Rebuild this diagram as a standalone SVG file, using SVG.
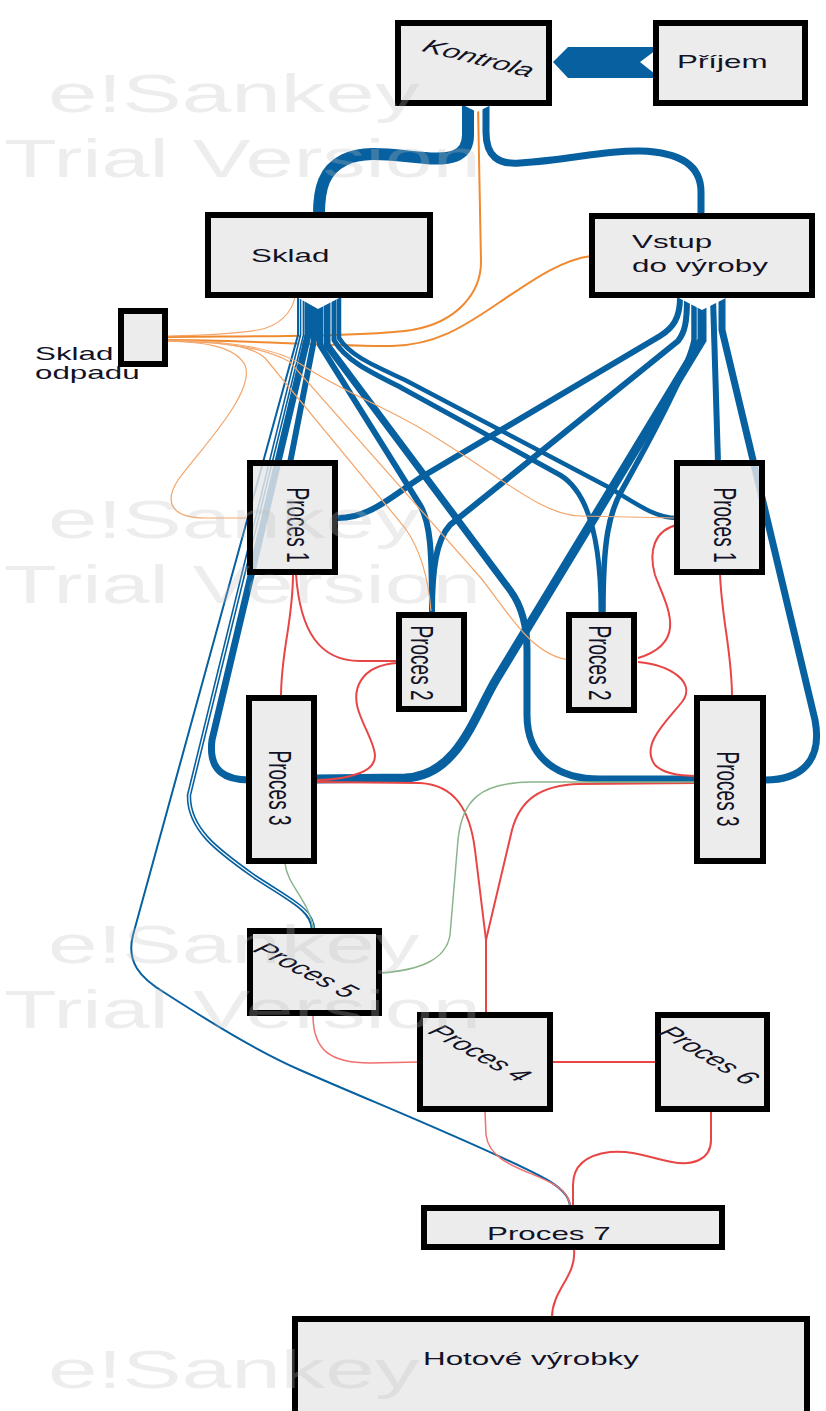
<svg xmlns="http://www.w3.org/2000/svg" width="826" height="1411" viewBox="0 0 826 1411">
<style>
.node rect{fill:#e8e8e8;fill-opacity:0.82;stroke:#000;stroke-width:6}
.lbl{font-family:"Liberation Sans",Arial,sans-serif;font-size:19px;fill:#121226}
.it{font-style:italic}
.b{fill:none;stroke:#07609f;stroke-linecap:butt}
.o{fill:none;stroke:#f08a30;stroke-width:2}
.ol{fill:none;stroke:#f4a56a;stroke-width:1.2}
.r{fill:none;stroke:#e84545;stroke-width:2}
.rl{fill:none;stroke:#f07070;stroke-width:1.5}
.g{fill:none;stroke:#8ab48a;stroke-width:1.5}
.wm{font-family:"Liberation Sans",Arial,sans-serif;font-size:54px;fill:#bdbdbd;fill-opacity:0.28}
</style>
<rect x="0" y="0" width="826" height="1411" fill="#fff"/>
<g id="connectors">
<!-- Prijem -> Kontrola -->
<polygon points="553,62 568,47 660,47 640,62 660,78 568,78" fill="#07609f"/>
<!-- Kontrola -> Sklad / Vstup -->
<path class="b" stroke-width="12" d="M468,104 L468,135 C468,158 448,160 425,158 C390,155 365,150 344,160 C324,170 319,188 319,214"/>
<path class="b" stroke-width="7" d="M486,104 L486,132 C486,156 498,165 520,163 C570,160 605,150 640,151 C680,152 701,165 701,192 L701,215"/>
<path class="o" d="M478,104 L481,262 C481,292 458,322 412,330 C360,337 250,336 168,337"/>
<!-- Vstup -> Sklad odpadu -->
<path class="o" d="M591,256 C560,260 530,282 500,302 C462,328 435,345 392,346 C330,346 240,340 168,340"/>
<!-- Sklad outflows -->
<path class="b" stroke-width="2" d="M298,298 L298,335 L133,935 C126,962 140,978 165,993 C210,1022 255,1050 300,1070 C380,1105 480,1145 540,1176 C560,1186 570,1196 570,1207"/>
<path class="b" stroke-width="4.5" d="M302,298 L302,335 L189,795 C188,830 220,852 255,877 C290,900 313,910 313,930"/>
<path stroke="#fff" stroke-width="1.3" fill="none" d="M302,300 L302,335 L189,795 C188,830 220,852 255,877 C290,900 313,910 313,928"/>
<path class="b" stroke-width="7" d="M308,298 L308,335 L212,740 C208,772 226,780 250,780"/>
<path class="b" stroke-width="6" d="M314,298 L314,340 L290,463"/>
<path class="b" stroke-width="6" d="M320,298 L320,345 L420,505 C430,522 432,548 432,612"/>
<path class="b" stroke-width="7" d="M327,298 L327,345 L510,590 C522,606 527,625 527,650 L527,715 C527,760 560,779 600,779 L697,779"/>
<path class="b" stroke-width="5" d="M334,298 L334,340 C345,360 370,372 400,387 L560,475 C585,490 601,530 601,612"/>
<path class="b" stroke-width="4.5" d="M339,298 L339,338 C350,356 375,366 405,380 L610,488 C635,503 655,518 677,518"/>
<polygon points="295,296 318,309 343,296" fill="#fff"/>
<!-- Vstup outflows -->
<path class="b" stroke-width="6" d="M680,298 C680,318 673,328 660,336 L420,478 C392,496 370,518 338,518"/>
<path class="b" stroke-width="6" d="M687,298 C687,322 685,332 678,341 L450,525 C436,540 432,570 432,612"/>
<path class="b" stroke-width="5.5" d="M694,298 L694,340 C690,362 660,422 622,490 C609,513 603,540 603,612"/>
<path class="b" stroke-width="9" d="M702,298 L702,340 L497,678 C474,716 458,776 405,778 L316,779"/>
<path class="b" stroke-width="6" d="M713,298 L718,463"/>
<path class="b" stroke-width="7" d="M722,298 L722,330 L815,720 C823,762 800,780 765,780"/>
<polygon points="675,296 702,310 730,296" fill="#fff"/>
<polygon points="461,104 477,112 493,104" fill="#fff"/>
<!-- Sklad odpadu thin orange -->
<path class="ol" d="M295,297 C292,312 280,326 258,330 C228,335 200,335 168,336"/>
<path class="ol" d="M168,341 C200,342 234,345 245,365 C256,392 200,450 178,480 C162,505 175,518 205,518 L249,518"/>
<path class="ol" d="M168,341 C225,342 252,346 265,358 L405,528 C422,552 429,585 431,611"/>
<path class="ol" d="M168,341 C228,342 265,348 290,362 L480,577 C505,607 530,656 570,660"/>
<path class="ol" d="M168,340 C238,341 280,350 302,365 C340,390 380,405 420,428 C500,475 540,515 580,516 L677,518"/>
<!-- Red -->
<path class="r" d="M293,574 C293,622 281,650 281,697"/>
<path class="r" d="M296,574 C300,632 320,661 360,661 L398,661"/>
<path class="r" d="M398,663 C360,665 350,690 360,715 C370,742 388,762 360,773 C345,779 330,780 316,780"/>
<path class="r" d="M316,782 L420,783 C455,785 470,810 475,850 L486,940"/>
<path class="r" d="M697,783 L580,784 C540,785 520,800 512,830 L486,940"/>
<path class="r" stroke-width="3.5" d="M486,938 L486,1013"/>
<path class="r" d="M720,574 C722,622 732,652 732,697"/>
<path class="r" d="M677,525 C655,530 648,550 655,575 C666,605 690,642 638,658"/>
<path class="r" d="M638,662 C670,665 697,682 682,702 C666,722 640,745 655,765 C665,775 685,776 697,776"/>
<path class="rl" d="M313,1015 C313,1050 330,1063 370,1063 L419,1062"/>
<path class="r" d="M552,1062 L657,1062"/>
<path class="rl" d="M485,1111 L486,1135 C490,1165 530,1170 555,1185 C567,1193 570,1200 570,1207"/>
<path class="r" d="M711,1111 L711,1140 C711,1160 692,1166 672,1162 C650,1158 635,1150 610,1152 C586,1155 573,1166 573,1185 L573,1207"/>
<path class="r" stroke-width="3" d="M574,1249 C577,1276 552,1290 552,1317"/>
<!-- Green -->
<path class="g" d="M285,863 C287,886 310,900 313,930"/>
<path class="g" d="M381,973 C420,970 446,960 450,935 L458,840 C462,800 480,783 530,782 L697,782"/>
</g>
<g id="n-kontrola" class="node"><rect x="398" y="23" width="151" height="80"/><text class="lbl it" transform="translate(479,58) scale(1.65,1) rotate(22)" text-anchor="middle" dominant-baseline="central">Kontrola</text></g>
<g id="n-prijem" class="node"><rect x="656" y="23" width="149" height="80"/><text class="lbl" transform="translate(677,68) scale(1.65,1)">Příjem</text></g>
<g id="n-sklad" class="node"><rect x="208" y="215" width="222" height="80"/><text class="lbl" transform="translate(251,262) scale(1.65,1)">Sklad</text></g>
<g id="n-vstup" class="node"><rect x="592" y="216" width="220" height="79"/><text class="lbl" transform="translate(632,248) scale(1.65,1)">Vstup</text><text class="lbl" transform="translate(632,272) scale(1.65,1)">do výroby</text></g>
<g id="n-odpad" class="node"><rect x="121" y="311" width="44" height="53"/><text class="lbl" transform="translate(35,360) scale(1.65,1)">Sklad</text><text class="lbl" transform="translate(35,379) scale(1.65,1)">odpadu</text></g>
<g id="n-p1l" class="node"><rect x="250" y="463" width="85" height="109"/><text class="lbl" transform="translate(298,525) scale(1.65,1) rotate(90)" text-anchor="middle" dominant-baseline="central">Proces 1</text></g>
<g id="n-p1r" class="node"><rect x="677" y="463" width="85" height="109"/><text class="lbl" transform="translate(725,525) scale(1.65,1) rotate(90)" text-anchor="middle" dominant-baseline="central">Proces 1</text></g>
<g id="n-p2l" class="node"><rect x="399" y="615" width="65" height="94"/><text class="lbl" transform="translate(422,663) scale(1.65,1) rotate(90)" text-anchor="middle" dominant-baseline="central">Proces 2</text></g>
<g id="n-p2r" class="node"><rect x="569" y="615" width="65" height="95"/><text class="lbl" transform="translate(600,663) scale(1.65,1) rotate(90)" text-anchor="middle" dominant-baseline="central">Proces 2</text></g>
<g id="n-p3l" class="node"><rect x="249" y="698" width="65" height="163"/><text class="lbl" transform="translate(280,788) scale(1.65,1) rotate(90)" text-anchor="middle" dominant-baseline="central">Proces 3</text></g>
<g id="n-p3r" class="node"><rect x="697" y="698" width="66" height="163"/><text class="lbl" transform="translate(728,789) scale(1.65,1) rotate(90)" text-anchor="middle" dominant-baseline="central">Proces 3</text></g>
<g id="n-p5" class="node"><rect x="250" y="931" width="129" height="82"/><text class="lbl it" transform="translate(306,970) scale(1.65,1) rotate(40)" text-anchor="middle" dominant-baseline="central">Proces 5</text></g>
<g id="n-p4" class="node"><rect x="420" y="1015" width="130" height="94"/><text class="lbl it" transform="translate(480,1053) scale(1.65,1) rotate(42)" text-anchor="middle" dominant-baseline="central">Proces 4</text></g>
<g id="n-p6" class="node"><rect x="658" y="1015" width="109" height="94"/><text class="lbl it" transform="translate(709,1055) scale(1.65,1) rotate(44)" text-anchor="middle" dominant-baseline="central">Proces 6</text></g>
<g id="n-p7" class="node"><rect x="424" y="1208" width="298" height="39"/><text class="lbl" transform="translate(487,1240) scale(1.65,1)">Proces 7</text></g>
<g id="n-hotove" class="node"><rect x="295" y="1319" width="512" height="100"/><text class="lbl" transform="translate(423,1365) scale(1.65,1)">Hotové výrobky</text></g>
<g id="watermark">
<text class="wm" transform="translate(48,112) scale(1.65,1)">e!Sankey</text>
<text class="wm" transform="translate(4,177) scale(1.6,1)">Trial Version</text>
<text class="wm" transform="translate(48,538) scale(1.65,1)">e!Sankey</text>
<text class="wm" transform="translate(4,603) scale(1.6,1)">Trial Version</text>
<text class="wm" transform="translate(48,963) scale(1.65,1)">e!Sankey</text>
<text class="wm" transform="translate(4,1028) scale(1.6,1)">Trial Version</text>
<text class="wm" transform="translate(48,1388) scale(1.65,1)">e!Sankey</text>
</g>
</svg>
